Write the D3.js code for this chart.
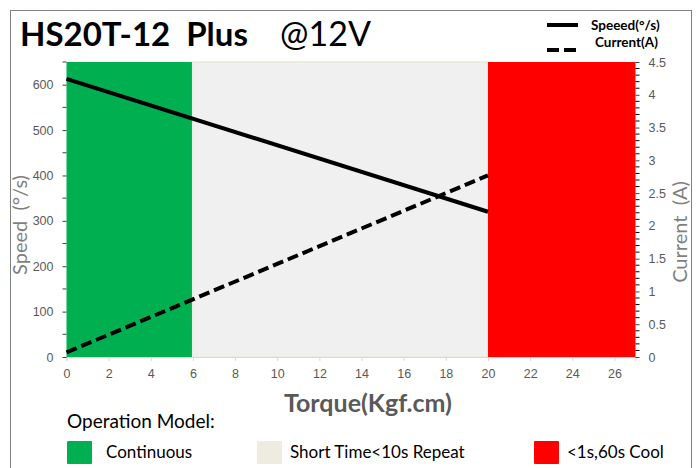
<!DOCTYPE html>
<html>
<head>
<meta charset="utf-8">
<script src="https://cdn.jsdelivr.net/npm/d3@7"></script>
<style>
  body { margin: 0; background: #fff; }
  svg { display: block; font-family: Lato, "Open Sans", sans-serif; }
</style>
</head>
<body>
<svg id="chart" width="696" height="468"></svg>
<script>
// torque / speed / current readings
const torque = [0, 20];
const speed = [613, 320];
const current = [0.07, 2.77];

// operating zones along the torque axis
const zoneNames = ["Continuous", "Short Time<10s Repeat", "<1s,60s Cool"];
const zoneFrom = [0, 6, 20];
const zoneTo = [6, 20, 27];
const zoneColors = ["#00B050", "#F0F0F0", "#FF0000"];
const swatchColors = ["#00B050", "#EEECE1", "#FF0000"];

const xTicks = d3.range(0, 27, 2);
const speedTicks = d3.range(0, 651, 100);
const currentTicks = d3.range(0, 4.51, 0.5);

const svg = d3.select("#chart");
const pLeft = 66.5, pRight = 635.5, pTop = 62, pBottom = 357;

const x = d3.scaleLinear().domain([0, 27]).range([pLeft, pRight]);
const ySpeed = d3.scaleLinear().domain([0, 650]).range([pBottom, pTop]);
const yCur = d3.scaleLinear().domain([0, 4.5]).range([pBottom, pTop]);

// outer frame
svg.append("rect")
    .attr("x", 10.5).attr("y", 10.5)
    .attr("width", 681).attr("height", 470)
    .attr("fill", "none")
    .attr("stroke", "#808080");

// zone backgrounds
const zones = zoneNames.map((n, i) => ({name: n, a: zoneFrom[i], b: zoneTo[i], c: zoneColors[i]}));
svg.selectAll("rect.zone")
    .data(zones)
    .enter()
    .append("rect")
    .attr("class", "zone")
    .attr("x", d => x(d.a))
    .attr("y", pTop)
    .attr("width", d => x(d.b) - x(d.a))
    .attr("height", pBottom - pTop)
    .attr("fill", d => d.c)
    .attr("stroke", (d, i) => i == 1 ? "#EEECE1" : "none")
    .attr("stroke-width", 2);

// x axis
const xAxis = svg.append("g")
    .attr("transform", `translate(0,${pBottom})`)
    .call(d3.axisBottom(x).tickValues(xTicks).tickSize(4).tickPadding(8));
xAxis.select(".domain").attr("stroke", "#D9D9D9");
xAxis.selectAll(".tick line").attr("stroke", "#D9D9D9");
xAxis.selectAll("text").attr("fill", "#595959").style("font-size", "12.5px");

// left axis (speed)
const yl = svg.append("g")
    .attr("transform", `translate(${pLeft},0)`)
    .call(d3.axisLeft(ySpeed).tickValues(speedTicks).tickSize(4).tickPadding(9));
yl.select(".domain").remove();
yl.selectAll(".tick line").attr("stroke", "#404040");
yl.selectAll("text").attr("fill", "#595959").style("font-size", "12.5px");
// minor ticks every 50
yl.selectAll("line.minor")
    .data(d3.range(50, 651, 100))
    .enter()
    .append("line")
    .attr("class", "minor")
    .attr("x1", -4).attr("x2", 0)
    .attr("y1", d => ySpeed(d)).attr("y2", d => ySpeed(d))
    .attr("stroke", "#404040");

// right axis (current)
const yr = svg.append("g")
    .attr("transform", `translate(${pRight},0)`)
    .call(d3.axisRight(yCur).tickValues(currentTicks).tickSize(4).tickPadding(9)
        .tickFormat(d => d3.format("~g")(d)));
yr.select(".domain").remove();
yr.selectAll(".tick line").attr("stroke", "#404040");
yr.selectAll("text").attr("fill", "#595959").style("font-size", "12.5px");
yr.selectAll("line.minor")
    .data(d3.range(0, 45).map(d => d / 10).filter(d => Math.round(d * 10) % 5 != 0))
    .enter()
    .append("line")
    .attr("class", "minor")
    .attr("x1", 0).attr("x2", 4)
    .attr("y1", d => yCur(d)).attr("y2", d => yCur(d))
    .attr("stroke", "#000");

// speed line
const speedData = torque.map((t, i) => ({t: t, v: speed[i]}));
svg.append("path")
    .attr("d", d3.line().x(d => x(d.t)).y(d => ySpeed(d.v))(speedData))
    .attr("stroke", "#000")
    .attr("stroke-width", 4)
    .attr("fill", "none");

// current line
const curData = torque.map((t, i) => ({t: t, v: current[i]}));
svg.append("path")
    .attr("d", d3.line().x(d => x(d.t)).y(d => yCur(d.v))(curData))
    .attr("stroke", "#000")
    .attr("stroke-width", 4)
    .attr("stroke-dasharray", "11,5")
    .attr("fill", "none");

// title
svg.append("text")
    .attr("x", 20).attr("y", 46)
    .attr("font-size", "33px")
    .attr("font-weight", "bold")
    .attr("fill", "#000")
    .style("white-space", "pre")
    .text("HS20T-12  Plus");
svg.append("text")
    .attr("x", 280).attr("y", 46)
    .attr("font-size", "34px")
    .attr("fill", "#000")
    .text("@12V");

// axis titles
svg.append("text")
    .attr("transform", "translate(27,225) rotate(-90)")
    .attr("text-anchor", "middle")
    .attr("font-size", "20px")
    .attr("fill", "#7F7F7F")
    .style("white-space", "pre")
    .text("Speed  (°/s)");
svg.append("text")
    .attr("transform", "translate(687,232) rotate(-90)")
    .attr("text-anchor", "middle")
    .attr("font-size", "20px")
    .attr("fill", "#7F7F7F")
    .style("white-space", "pre")
    .text("Current  (A)");
svg.append("text")
    .attr("x", 368).attr("y", 412)
    .attr("text-anchor", "middle")
    .attr("font-size", "25px")
    .attr("font-weight", "bold")
    .attr("fill", "#595959")
    .text("Torque(Kgf.cm)");

// series legend, top right
svg.append("line")
    .attr("x1", 547).attr("x2", 578).attr("y1", 25).attr("y2", 25)
    .attr("stroke", "#000").attr("stroke-width", 4);
svg.append("line")
    .attr("x1", 547).attr("x2", 578).attr("y1", 50).attr("y2", 50)
    .attr("stroke", "#000").attr("stroke-width", 4)
    .attr("stroke-dasharray", "12,5");
svg.append("text")
    .attr("x", 591).attr("y", 30)
    .attr("font-size", "13.5px").attr("font-weight", "bold")
    .text("Speeed(°/s)");
svg.append("text")
    .attr("x", 595).attr("y", 47)
    .attr("font-size", "13.5px").attr("font-weight", "bold")
    .text("Current(A)");

// operation model legend
svg.append("text")
    .attr("x", 67).attr("y", 428)
    .attr("font-size", "19px")
    .attr("fill", "#000")
    .text("Operation Model:");
const legX = [67, 257, 534];
const leg = svg.selectAll("g.leg")
    .data(zoneNames)
    .enter()
    .append("g")
    .attr("class", "leg")
    .attr("transform", (d, i) => `translate(${legX[i]},441)`);
leg.append("rect")
    .attr("width", 25).attr("height", 23)
    .attr("rx", 1)
    .attr("fill", (d, i) => swatchColors[i]);
leg.append("text")
    .attr("x", (d, i) => i == 0 ? 39 : 33)
    .attr("y", 17)
    .attr("font-size", "17px")
    .attr("fill", "#000")
    .text(d => d);
</script>
</body>
</html>
